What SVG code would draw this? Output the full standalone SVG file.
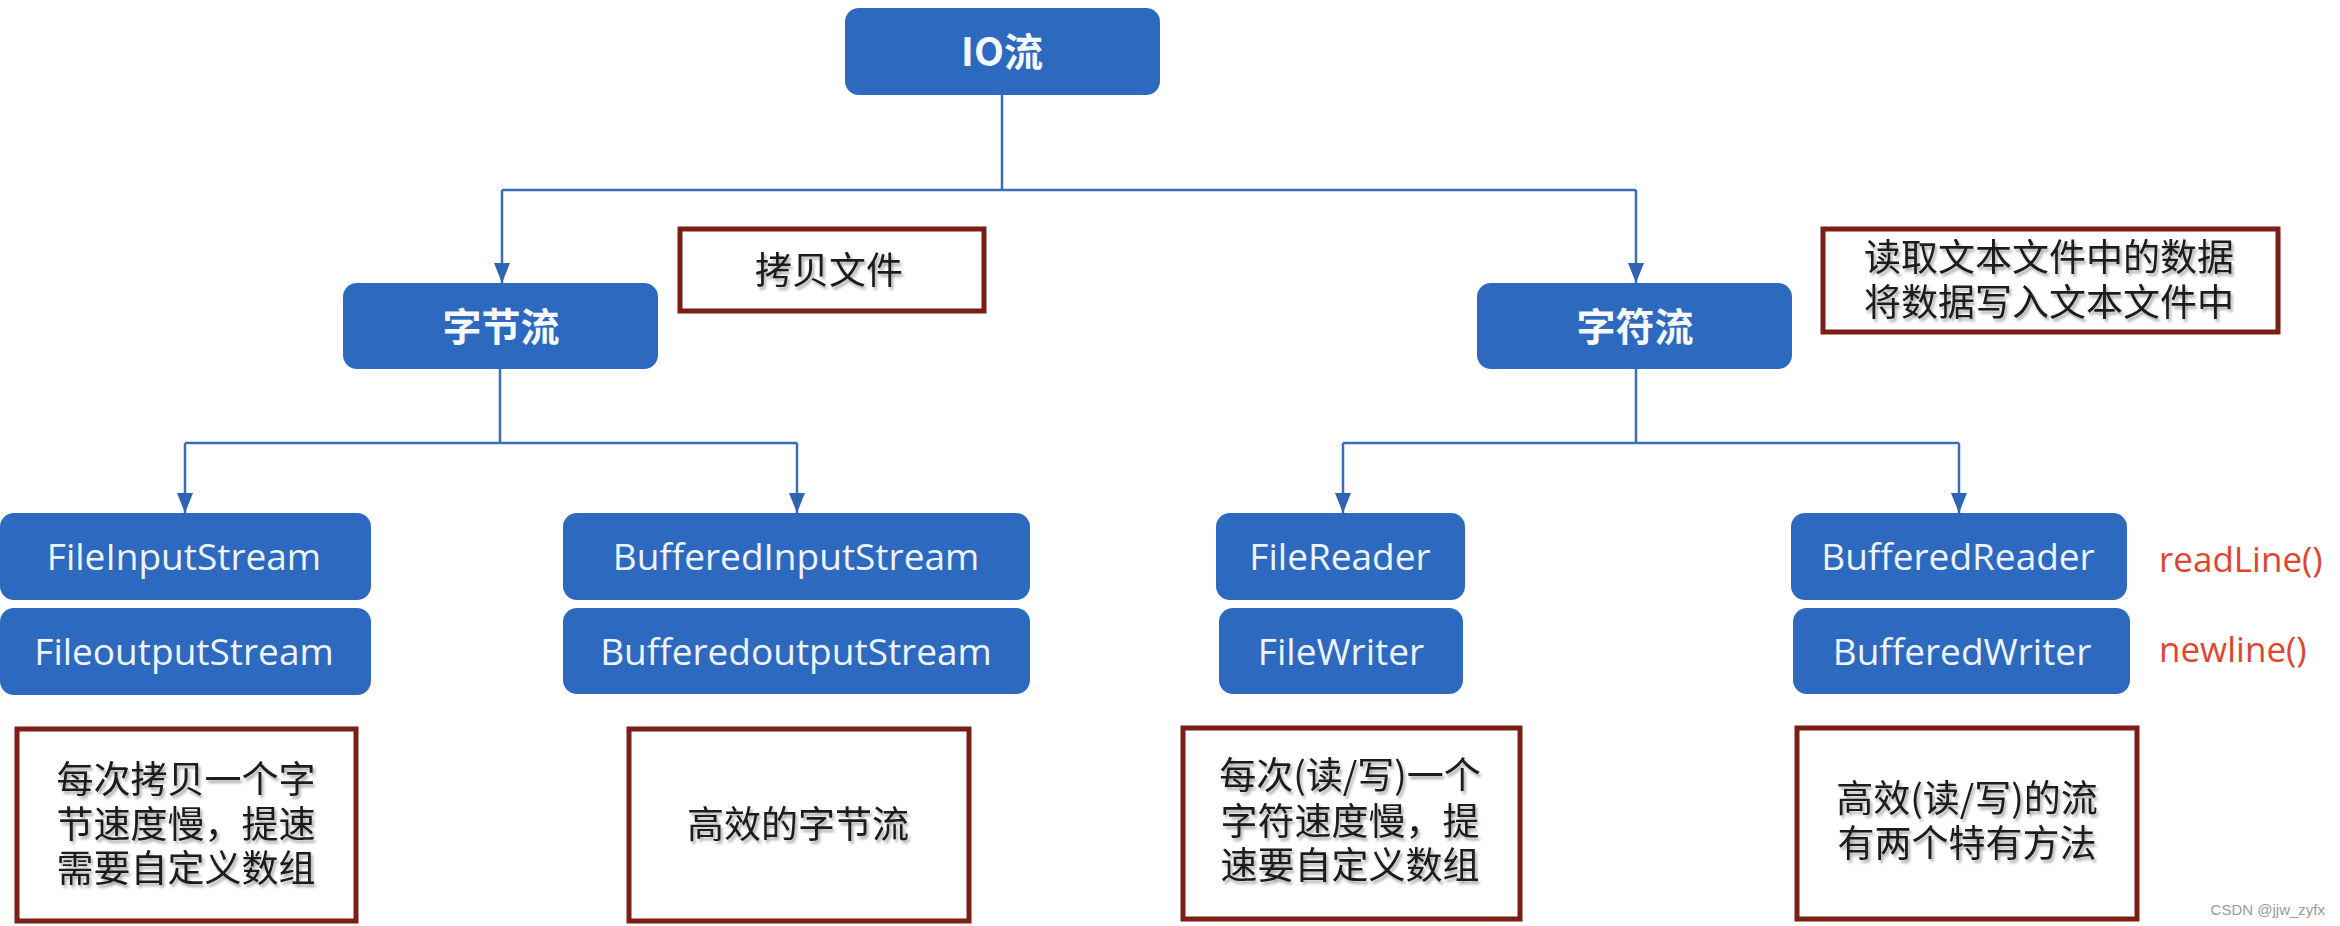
<svg xmlns="http://www.w3.org/2000/svg" width="2340" height="926" viewBox="0 0 2340 926">
<defs>
<marker id="arr" viewBox="0 0 20 16" refX="20" refY="8" markerWidth="20" markerHeight="16" markerUnits="userSpaceOnUse" orient="auto">
<path d="M0,0 L20,8 L0,16 Z" fill="#2F64B2"/>
</marker>
<filter id="ts" x="-10%" y="-10%" width="130%" height="140%">
<feGaussianBlur in="SourceAlpha" stdDeviation="1.5"/>
<feOffset dx="2" dy="3" result="b"/>
<feComponentTransfer><feFuncA type="linear" slope="0.35"/></feComponentTransfer>
<feMerge><feMergeNode/><feMergeNode in="SourceGraphic"/></feMerge>
</filter>
</defs>
<style>
.blue{fill:#2D69BE;}
.note{fill:#FFFFFF;stroke:#7A1E16;stroke-width:5;}
.wt{font-family:"Noto Sans CJK SC","Noto Sans",sans-serif;font-weight:bold;font-size:39px;fill:#F4F8FF;text-anchor:middle;}
.en{font-family:"Open Sans","Noto Sans",sans-serif;font-size:37px;fill:#EEF4FF;text-anchor:middle;}
.bk{font-family:"Noto Sans CJK SC",sans-serif;font-size:37px;fill:#1A1A1A;text-anchor:middle;filter:url(#ts);}
.rd{font-family:"Open Sans","Noto Sans",sans-serif;font-size:35px;fill:#E0452F;}
.conn{fill:none;stroke:#3A6DB5;stroke-width:2.5;}
</style>
<rect width="2340" height="926" fill="#FFFFFF"/>
<g id="connectors">
<path class="conn" d="M1002,95 V190"/>
<path class="conn" d="M502,190 H1636"/>
<path class="conn" d="M502,190 V283" marker-end="url(#arr)"/>
<path class="conn" d="M1636,190 V283" marker-end="url(#arr)"/>
<path class="conn" d="M500,369 V443"/>
<path class="conn" d="M185,443 H797"/>
<path class="conn" d="M185,443 V513" marker-end="url(#arr)"/>
<path class="conn" d="M797,443 V513" marker-end="url(#arr)"/>
<path class="conn" d="M1636,369 V443"/>
<path class="conn" d="M1343,443 H1959"/>
<path class="conn" d="M1343,443 V513" marker-end="url(#arr)"/>
<path class="conn" d="M1959,443 V513" marker-end="url(#arr)"/>
</g>
<g id="io">
<rect class="blue" x="845" y="8" width="315" height="87" rx="14"/>
<text class="wt" x="1002" y="66">IO流</text>
</g>
<g id="byte">
<rect class="blue" x="343" y="283" width="315" height="86" rx="14"/>
<text class="wt" x="501" y="341">字节流</text>
</g>
<g id="char">
<rect class="blue" x="1477" y="283" width="315" height="86" rx="14"/>
<text class="wt" x="1635" y="341">字符流</text>
</g>
<g id="note-copy">
<rect class="note" x="680" y="229" width="304" height="82"/>
<text class="bk" x="829" y="284">拷贝文件</text>
</g>
<g id="note-text">
<rect class="note" x="1823" y="229" width="455" height="103"/>
<text class="bk"><tspan x="2049" y="271">读取文本文件中的数据</tspan><tspan x="2049" y="316">将数据写入文本文件中</tspan></text>
</g>
<g id="fis">
<rect class="blue" x="0" y="513" width="371" height="87" rx="14"/>
<text class="en" x="184" y="570">FileInputStream</text>
</g>
<g id="fos">
<rect class="blue" x="0" y="608" width="371" height="87" rx="14"/>
<text class="en" x="184" y="665">FileoutputStream</text>
</g>
<g id="bis">
<rect class="blue" x="563" y="513" width="467" height="87" rx="14"/>
<text class="en" x="796" y="570">BufferedInputStream</text>
</g>
<g id="bos">
<rect class="blue" x="563" y="608" width="467" height="86" rx="14"/>
<text class="en" x="796" y="665">BufferedoutputStream</text>
</g>
<g id="fr">
<rect class="blue" x="1216" y="513" width="249" height="87" rx="14"/>
<text class="en" x="1340" y="570">FileReader</text>
</g>
<g id="fw">
<rect class="blue" x="1219" y="608" width="244" height="86" rx="14"/>
<text class="en" x="1341" y="665">FileWriter</text>
</g>
<g id="br">
<rect class="blue" x="1791" y="513" width="336" height="87" rx="14"/>
<text class="en" x="1958" y="570">BufferedReader</text>
</g>
<g id="bw">
<rect class="blue" x="1793" y="608" width="337" height="86" rx="14"/>
<text class="en" x="1962" y="665">BufferedWriter</text>
</g>
<g id="methods">
<text class="rd" x="2159" y="572">readLine()</text>
<text class="rd" x="2159" y="662">newline()</text>
</g>
<g id="note1">
<rect class="note" x="17" y="729" width="339" height="192"/>
<text class="bk"><tspan x="186" y="793">每次拷贝一个字</tspan><tspan x="186" y="838">节速度慢，提速</tspan><tspan x="186" y="882">需要自定义数组</tspan></text>
</g>
<g id="note2">
<rect class="note" x="629" y="729" width="340" height="192"/>
<text class="bk" x="798" y="838">高效的字节流</text>
</g>
<g id="note3">
<rect class="note" x="1183" y="728" width="337" height="191"/>
<text class="bk"><tspan x="1350" y="789">每次(读/写)一个</tspan><tspan x="1350" y="835">字符速度慢，提</tspan><tspan x="1350" y="879">速要自定义数组</tspan></text>
</g>
<g id="note4">
<rect class="note" x="1797" y="728" width="340" height="191"/>
<text class="bk"><tspan x="1967" y="812">高效(读/写)的流</tspan><tspan x="1967" y="857">有两个特有方法</tspan></text>
</g>
<text x="2325" y="915" font-family="Liberation Sans, sans-serif" font-size="15" fill="#9A9A9A" text-anchor="end">CSDN @jjw_zyfx</text>
</svg>
